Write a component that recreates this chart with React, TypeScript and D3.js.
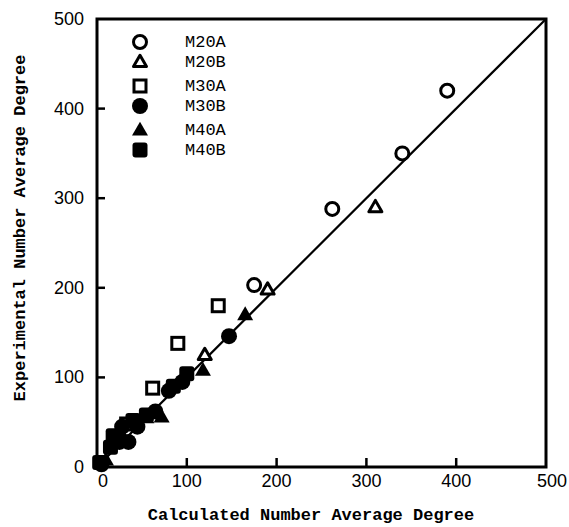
import React from "react";
import * as d3 from "d3";

const W = 569;
const H = 527;

const xTicks = [0, 100, 200, 300, 400, 500];
const yTicks = [0, 100, 200, 300, 400, 500];

const seriesNames = ["M20A", "M20B", "M30A", "M30B", "M40A", "M40B"];

const m20aX = [175, 262, 340, 390];
const m20aY = [203, 288, 350, 420];

const m20bX = [120, 190, 310];
const m20bY = [125, 198, 290];

const m30aX = [33, 62, 90, 135];
const m30aY = [48, 88, 138, 180];

const m30bX = [5, 25, 35, 28, 45, 65, 80, 95, 147];
const m30bY = [3, 28, 28, 45, 45, 62, 85, 95, 146];

const m40aX = [10, 30, 55, 72, 118, 165];
const m40aY = [8, 32, 55, 56, 108, 170];

const m40bX = [3, 15, 20, 18, 40, 55, 85, 100];
const m40bY = [5, 22, 30, 35, 52, 58, 90, 104];

const lineX = [0, 500];
const lineY = [0, 500];

type Kind = "oc" | "ot" | "os" | "fc" | "ft" | "fs";
const kinds: Kind[] = ["oc", "ot", "os", "fc", "ft", "fs"];
const seriesX = [m20aX, m20bX, m30aX, m30bX, m40aX, m40bX];
const seriesY = [m20aY, m20bY, m30aY, m30bY, m40aY, m40bY];

function Marker({ kind, cx, cy }: { kind: Kind; cx: number; cy: number }) {
  const sw = 3;
  if (kind === "oc") return <circle cx={cx} cy={cy} r={6.5} fill="white" stroke="black" strokeWidth={sw} />;
  if (kind === "fc") return <circle cx={cx} cy={cy} r={8} fill="black" />;
  if (kind === "os") return <rect x={cx - 6} y={cy - 6} width={12} height={12} fill="white" stroke="black" strokeWidth={sw} />;
  if (kind === "fs") return <rect x={cx - 7.5} y={cy - 7.5} width={15} height={15} rx={3} fill="black" />;
  const s = kind === "ot" ? 13 : 16;
  const h = s * 0.87;
  const p = `M${cx},${cy - h * 0.6}L${cx + s / 2},${cy + h * 0.4}L${cx - s / 2},${cy + h * 0.4}Z`;
  if (kind === "ot") return <path d={p} fill="white" stroke="black" strokeWidth={sw} strokeLinejoin="round" />;
  return <path d={p} fill="black" />;
}

export default function App() {
  const x = d3.scaleLinear().domain([0, 500]).range([97, 546]);
  const y = d3.scaleLinear().domain([0, 500]).range([467, 19]);
  const line = d3.line<number>().x((d) => x(lineX[d])).y((d) => y(lineY[d]));
  const legendY = [42, 62, 86, 106, 130, 150];
  const tickFont = "'Liberation Sans', Arial, sans-serif";
  const monoFont = "'Liberation Mono', 'Courier New', monospace";

  return (
    <svg width={W} height={H} style={{ position: "absolute", left: 0, top: 0, background: "white" }}>
      <rect width={W} height={H} fill="white" />
      {/* diagonal */}
      <path d={line([0, 1]) || ""} stroke="black" strokeWidth={2.2} fill="none" />
      {/* points */}
      {kinds.map((k, si) =>
        seriesX[si].map((vx, i) => <Marker key={`${si}-${i}`} kind={k} cx={x(vx)} cy={y(seriesY[si][i])} />)
      )}
      {/* frame */}
      <rect x={x(0)} y={y(500)} width={x(500) - x(0)} height={y(0) - y(500)} fill="none" stroke="black" strokeWidth={3} />
      {/* ticks inward */}
      {xTicks.slice(1, -1).map((t) => (
        <line key={`xt${t}`} x1={x(t)} x2={x(t)} y1={y(0)} y2={y(0) - 9} stroke="black" strokeWidth={2.5} />
      ))}
      {yTicks.slice(1, -1).map((t) => (
        <line key={`yt${t}`} x1={x(0)} x2={x(0) + 8} y1={y(t)} y2={y(t)} stroke="black" strokeWidth={2.5} />
      ))}
      {/* tick labels */}
      {xTicks.map((t) => (
        <text
          key={`xl${t}`}
          x={x(t) + (t === 0 || t === 500 ? 6 : 0)}
          y={487}
          textAnchor="middle"
          fontFamily={tickFont}
          fontSize={18}
          fill="black"
        >
          {t}
        </text>
      ))}
      {yTicks.map((t) => (
        <text key={`yl${t}`} x={84} y={y(t) + 6} textAnchor="end" fontFamily={tickFont} fontSize={18} fill="black">
          {t}
        </text>
      ))}
      {/* axis titles */}
      <text x={311} y={520} textAnchor="middle" fontFamily={monoFont} fontWeight="bold" fontSize={17} fill="black">
        Calculated Number Average Degree
      </text>
      <text
        transform={`translate(25, 228) rotate(-90)`}
        textAnchor="middle"
        fontFamily={monoFont}
        fontWeight="bold"
        fontSize={17}
        fill="black"
      >
        Experimental Number Average Degree
      </text>
      {/* legend */}
      {seriesNames.map((n, i) => (
        <g key={n}>
          <Marker kind={kinds[i]} cx={140} cy={legendY[i]} />
          <text x={185} y={legendY[i] + 5} fontFamily={monoFont} fontSize={17} fill="black">
            {n}
          </text>
        </g>
      ))}
    </svg>
  );
}
